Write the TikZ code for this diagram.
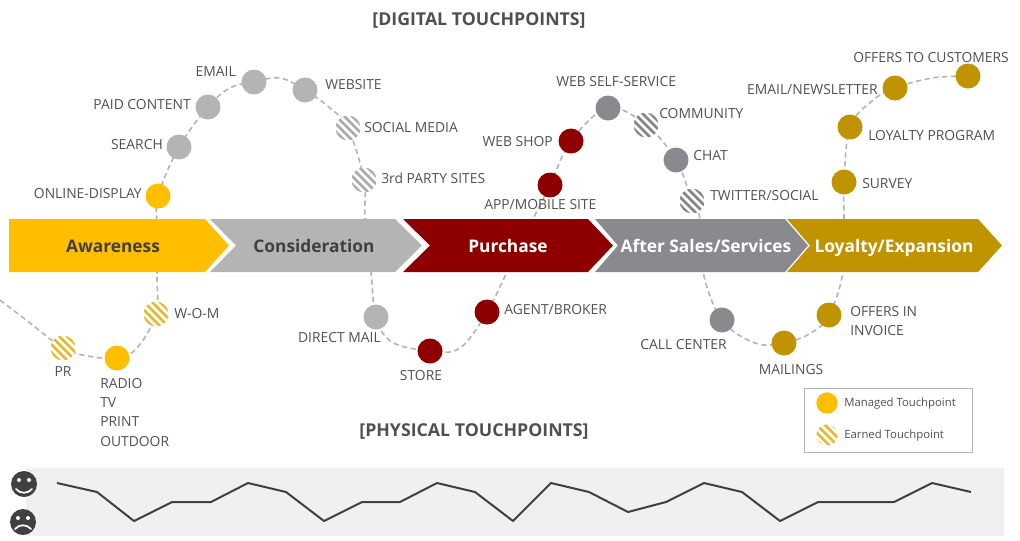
\documentclass[tikz,border=0pt]{standalone}
\usepackage{fontspec}
\setmainfont{Open Sans}
\usetikzlibrary{backgrounds}
\definecolor{cyel}{HTML}{FFBE00}
\definecolor{cgry}{HTML}{B4B4B4}
\definecolor{cred}{HTML}{8E0000}
\definecolor{cdgr}{HTML}{8A8A8E}
\definecolor{cgld}{HTML}{C09400}
\definecolor{ctxt}{HTML}{505050}
\definecolor{cdark}{HTML}{404040}
\definecolor{cband}{HTML}{F0F0F2}
\definecolor{chyel}{HTML}{E3B92F}
\definecolor{chgry}{HTML}{ABABAB}
\definecolor{chdgr}{HTML}{858589}
\tikzset{
  x=0.75pt,y=-0.75pt,
  tp/.style={circle,fill=#1,inner sep=0pt,minimum size=18.75pt},
  earned/.style={circle,fill=white,inner sep=0pt,minimum size=18.75pt,
    path picture={\foreach \d in {-16,-12,...,16}
      \draw[#1,line width=1.9pt]
        ([shift={(\d-20,-\d-20)}]path picture bounding box.center) --
        ([shift={(\d+20,-\d+20)}]path picture bounding box.center);}},
  lab/.style={inner sep=0pt,text=ctxt,yshift=-0.75pt,font=\fontsize{10.4pt}{14pt}\selectfont},
  leglab/.style={inner sep=0pt,text=ctxt,font=\fontsize{8.5pt}{11pt}\selectfont,anchor=west},
  head/.style={inner sep=0pt,text=ctxt,font=\fontsize{13.3pt}{15pt}\selectfont\bfseries},
  chev/.style={inner sep=0pt,anchor=base,font=\fontsize{13pt}{16pt}\selectfont\bfseries},
  route/.style={draw=cgry,line width=1.2pt,dash pattern=on 4pt off 2.6pt},
  mood/.style={circle,fill=cdark,inner sep=0pt,minimum size=19.5pt},
}
\begin{document}
\begin{tikzpicture}
\useasboundingbox (0,0) rectangle (1020,540);
% band
\fill[cband] (26,468) rectangle (1004,536);
% chevrons
\fill[cyel] (9,219) -- (205,219) -- (229,245.5) -- (205,272) -- (9,272) -- cycle;
\fill[cgry] (210,219) -- (395,219) -- (422,245.5) -- (395,272) -- (210,272) -- (236,245.5) -- cycle;
\fill[cred] (403,219) -- (588,219) -- (613,245.5) -- (588,272) -- (403,272) -- (430,245.5) -- cycle;
\fill[cdgr] (595,219) -- (785,219) -- (808,245.5) -- (785,272) -- (595,272) -- (618,245.5) -- cycle;
\fill[cgld] (787,219) -- (978,219) -- (1002,245.5) -- (978,272) -- (787,272) -- (810,245.5) -- cycle;
\node[chev,text=cdark] (aw) at (113,252.5) {Awareness};
\node[chev,text=cdark] (co) at (314,252.5) {Consideration};
\node[chev,text=white] (pu) at (508,252.5) {Purchase};
\node[chev,text=white] (af) at (706,252.5) {After Sales/Services};
\node[chev,text=white] (lo) at (894,252.5) {Loyalty/Expansion};
% touchpoints
\node[earned=chyel] (pr) at (63,348) {};
\node[tp=cyel] (radio) at (117,358) {};
\node[earned=chyel] (wom) at (156,314) {};
\node[tp=cyel] (disp) at (158,196) {};
\node[tp=cgry] (search) at (179,147) {};
\node[tp=cgry] (paid) at (208,107) {};
\node[tp=cgry] (email) at (254,82) {};
\node[tp=cgry] (web) at (305,90) {};
\node[earned=chgry] (social) at (348,128) {};
\node[earned=chgry] (third) at (364,180) {};
\node[tp=cgry] (direct) at (376,317) {};
\node[tp=cred] (store) at (430,351) {};
\node[tp=cred] (agent) at (487,312) {};
\node[tp=cred] (app) at (550,185) {};
\node[tp=cred] (shop) at (571,141) {};
\node[tp=cdgr] (self) at (608,108) {};
\node[earned=chdgr] (comm) at (646,125) {};
\node[tp=cdgr] (chat) at (676,160) {};
\node[earned=chdgr] (twit) at (692,201) {};
\node[tp=cdgr] (call) at (722,320) {};
\node[tp=cgld] (mail) at (784,343) {};
\node[tp=cgld] (inv) at (829,315) {};
\node[tp=cgld] (surv) at (844,182) {};
\node[tp=cgld] (loyal) at (850,127) {};
\node[tp=cgld] (news) at (895,88) {};
\node[tp=cgld] (offer) at (968,76) {};
% free route points
\coordinate (s0) at (0,300);
\coordinate (s1) at (30,323);
\coordinate (a1) at (88,356);
\coordinate (a2) at (137,348);
\coordinate (a3) at (157,275);
\coordinate (a4) at (157,225);
\coordinate (b1) at (230,88);
\coordinate (b2) at (280,78);
\coordinate (b3) at (330,108);
\coordinate (c1) at (365,219);
\coordinate (c2) at (371,272);
\coordinate (c3) at (392,342);
\coordinate (c4) at (460,348);
\coordinate (d1) at (507,272);
\coordinate (d2) at (533,219);
\coordinate (e1) at (700,219);
\coordinate (e2) at (703,272);
\coordinate (f1) at (755,343);
\coordinate (f2) at (811,333);
\coordinate (g1) at (843,272);
\coordinate (g2) at (844,219);
\coordinate (h1) at (872,101);
\coordinate (h2) at (932,78);
\begin{scope}[on background layer]
\draw[route] plot[smooth,tension=0.6] coordinates {(s0)(s1)(pr)(a1)(radio)(a2)(wom)(a3)(a4)(disp)(search)(paid)(b1)(email)(b2)(web)(b3)(social)(third)(c1)(c2)(direct)(c3)(store)(c4)(agent)(d1)(d2)(app)(shop)(self)(comm)(chat)(twit)(e1)(e2)(call)(f1)(mail)(f2)(inv)(g1)(g2)(surv)(loyal)(h1)(news)(h2)(offer)};
\end{scope}
% labels
\node[head] (t1) at (479,20) {[DIGITAL TOUCHPOINTS]};
\node[head] (t2) at (474,431) {[PHYSICAL TOUCHPOINTS]};
\node[lab,anchor=east] (l1) at (142,193) {ONLINE-DISPLAY};
\node[lab,anchor=east] (l2) at (163,144) {SEARCH};
\node[lab,anchor=east] (l3) at (191,104) {PAID CONTENT};
\node[lab,anchor=east] (l4) at (236,71) {EMAIL};
\node[lab,anchor=west] (l5) at (325,84) {WEBSITE};
\node[lab,anchor=west] (l6) at (364,127) {SOCIAL MEDIA};
\node[lab,anchor=west] (l7) at (381,177) {3rd PARTY SITES};
\node[lab,anchor=east] (l8) at (553,141) {WEB SHOP};
\node[lab,anchor=west] (l9) at (556,81) {WEB SELF-SERVICE};
\node[lab,anchor=west] (l10) at (659,113) {COMMUNITY};
\node[lab,anchor=west] (l11) at (693,155) {CHAT};
\node[lab,anchor=west] (l12) at (710,195) {TWITTER/SOCIAL};
\node[lab,anchor=west] (l13) at (484,204) {APP/MOBILE SITE};
\node[lab,anchor=east] (l14) at (878,89) {EMAIL/NEWSLETTER};
\node[lab,anchor=west] (l15) at (853,57) {OFFERS TO CUSTOMERS};
\node[lab,anchor=west] (l16) at (868,135) {LOYALTY PROGRAM};
\node[lab,anchor=west] (l17) at (862,183) {SURVEY};
\node[lab,anchor=west] (l18) at (174,313) {W-O-M};
\node[lab] (l19) at (63,371) {PR};
\node[lab,anchor=north west,align=left,font=\fontsize{10.4pt}{14.3pt}\selectfont] (l20) at (100,377.5) {RADIO\\TV\\PRINT\\OUTDOOR};
\node[lab,anchor=east] (l21) at (381,337) {DIRECT MAIL};
\node[lab] (l22) at (421,375) {STORE};
\node[lab,anchor=west] (l23) at (504,309) {AGENT/BROKER};
\node[lab,anchor=east] (l24) at (727,344) {CALL CENTER};
\node[lab] (l25) at (791,369) {MAILINGS};
\node[lab,anchor=north west,align=left,font=\fontsize{10.4pt}{14.3pt}\selectfont] (l26) at (850,305.5) {OFFERS IN\\INVOICE};
% legend
\node[draw=cgry,line width=0.75pt,inner sep=0pt,minimum width=126pt,minimum height=48pt,anchor=north west] (leg) at (804,388) {};
\node[tp=cyel,minimum size=16pt] (lm) at (827,403) {};
\node[earned=chyel,minimum size=16pt] (le) at (827,435) {};
\node[leglab] (lt1) at (844,403.5) {Managed Touchpoint};
\node[leglab] (lt2) at (844,435.5) {Earned Touchpoint};
% mood
\node[mood] (happy) at (24,484) {};
\node[mood] (sad) at (23,522) {};
\fill[white] (19,480) circle[radius=2] (29,480) circle[radius=2];
\draw[white,line width=1.3pt,line cap=round] (16,489) .. controls (20,494) and (28,494) .. (32,489);
\fill[white] (18,518) circle[radius=2] (28,518) circle[radius=2];
\draw[white,line width=1.3pt,line cap=round] (15,529) .. controls (19,524) and (27,524) .. (31,529);
% mood line
\draw[cdark,line width=1.5pt,line join=round] (57,483) -- (97,492) -- (134,521) -- (172,502) -- (211,502) -- (248,483) -- (286,492) -- (324,521) -- (362,502) -- (400,502) -- (437,483) -- (475,492) -- (513,521) -- (551,483) -- (589,492) -- (628,512) -- (666,502) -- (704,483) -- (742,492) -- (780,521) -- (818,502) -- (856,502) -- (894,502) -- (932,483) -- (971,492);
\end{tikzpicture}
\end{document}
